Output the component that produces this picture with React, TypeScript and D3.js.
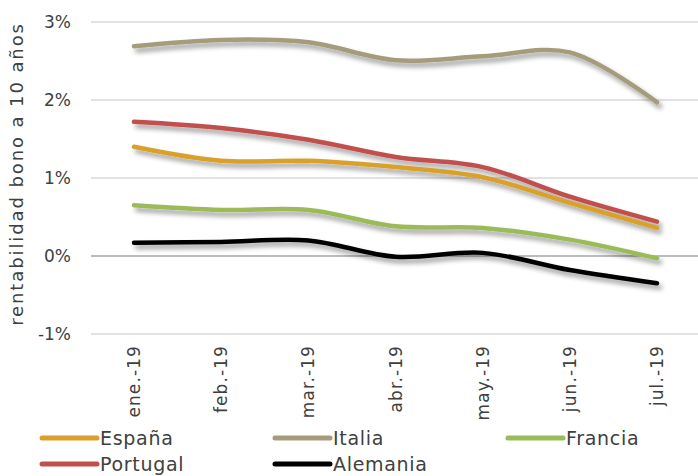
import React from "react";
import * as d3 from "d3";

const categories = ["ene.-19", "feb.-19", "mar.-19", "abr.-19", "may.-19", "jun.-19", "jul.-19"];
const espana = [1.40, 1.22, 1.22, 1.14, 1.01, 0.68, 0.36];
const italia = [2.69, 2.77, 2.74, 2.51, 2.56, 2.61, 1.97];
const francia = [0.65, 0.59, 0.59, 0.38, 0.36, 0.21, -0.03];
const portugal = [1.72, 1.64, 1.49, 1.27, 1.14, 0.76, 0.44];
const alemania = [0.17, 0.18, 0.20, -0.01, 0.04, -0.18, -0.35];
const yTicks = [-1, 0, 1, 2, 3];

const series = [
  { name: "España", values: espana, color: "#D9A02C" },
  { name: "Italia", values: italia, color: "#A59C7C" },
  { name: "Francia", values: francia, color: "#9BBB59" },
  { name: "Portugal", values: portugal, color: "#C0504D" },
  { name: "Alemania", values: alemania, color: "#000000" },
];
const drawOrder = ["Italia", "Portugal", "España", "Francia", "Alemania"];

const W = 698, H = 476;
const left = 91, right = 698, top = 22, bottom = 334;
const font = "'DejaVu Sans', sans-serif";

export default function App() {
  const x = d3.scalePoint<string>().domain(categories).range([134, 657]);
  const y = d3.scaleLinear().domain([-1, 3]).range([bottom, top]);
  const line = d3.line<number>()
    .x((_, i) => x(categories[i]) as number)
    .y((d) => y(d))
    .curve(d3.curveCatmullRom.alpha(0.5));

  const legendPos = [
    { x: 42, y: 438 }, { x: 275, y: 438 }, { x: 508, y: 438 },
    { x: 42, y: 464 }, { x: 275, y: 464 },
  ];

  return (
    <svg width={W} height={H} style={{ position: "absolute", left: 0, top: 0, background: "#fff" }}>
      <defs>
        <filter id="sh" x="-10%" y="-50%" width="120%" height="200%">
          <feGaussianBlur in="SourceAlpha" stdDeviation="2.5" />
          <feOffset dx="3" dy="4" result="b" />
          <feComponentTransfer><feFuncA type="linear" slope="0.4" /></feComponentTransfer>
          <feMerge><feMergeNode /><feMergeNode in="SourceGraphic" /></feMerge>
        </filter>
      </defs>
      {yTicks.map((t) => (
        <g key={t}>
          <line x1={left} x2={right} y1={y(t)} y2={y(t)} stroke={t === 0 ? "#A6A6A6" : "#D9D9D9"} strokeWidth={1.3} />
          <text x={71} y={y(t)} dy="0.36em" textAnchor="end" fontFamily={font} fontSize={17} fill="#404040">
            {`${t}%`}
          </text>
        </g>
      ))}
      <text transform={`translate(23,${(top + bottom) / 2 - 4}) rotate(-90)`} textAnchor="middle" fontFamily={font} fontSize={18} letterSpacing={1.9} fill="#404040">
        rentabilidad bono a 10 años
      </text>
      {categories.map((c) => (
        <text key={c} transform={`translate(${(x(c) as number) + 6},345) rotate(-90)`} textAnchor="end" fontFamily={font} fontSize={17} letterSpacing={1.1} fill="#404040">
          {c}
        </text>
      ))}
      {drawOrder.map((n) => {
        const s = series.find((d) => d.name === n)!;
        return (
          <path key={n} d={line(s.values) || ""} fill="none" stroke={s.color} strokeWidth={4.5} strokeLinecap="round" filter="url(#sh)" />
        );
      })}
      {series.map((s, i) => (
        <g key={s.name}>
          <line x1={legendPos[i].x} x2={legendPos[i].x + 55} y1={legendPos[i].y} y2={legendPos[i].y} stroke={s.color} strokeWidth={5} strokeLinecap="round" />
          <text x={legendPos[i].x + 58} y={legendPos[i].y} dy="0.36em" fontFamily={font} fontSize={19} letterSpacing={0.7} fill="#404040">
            {s.name}
          </text>
        </g>
      ))}
    </svg>
  );
}
